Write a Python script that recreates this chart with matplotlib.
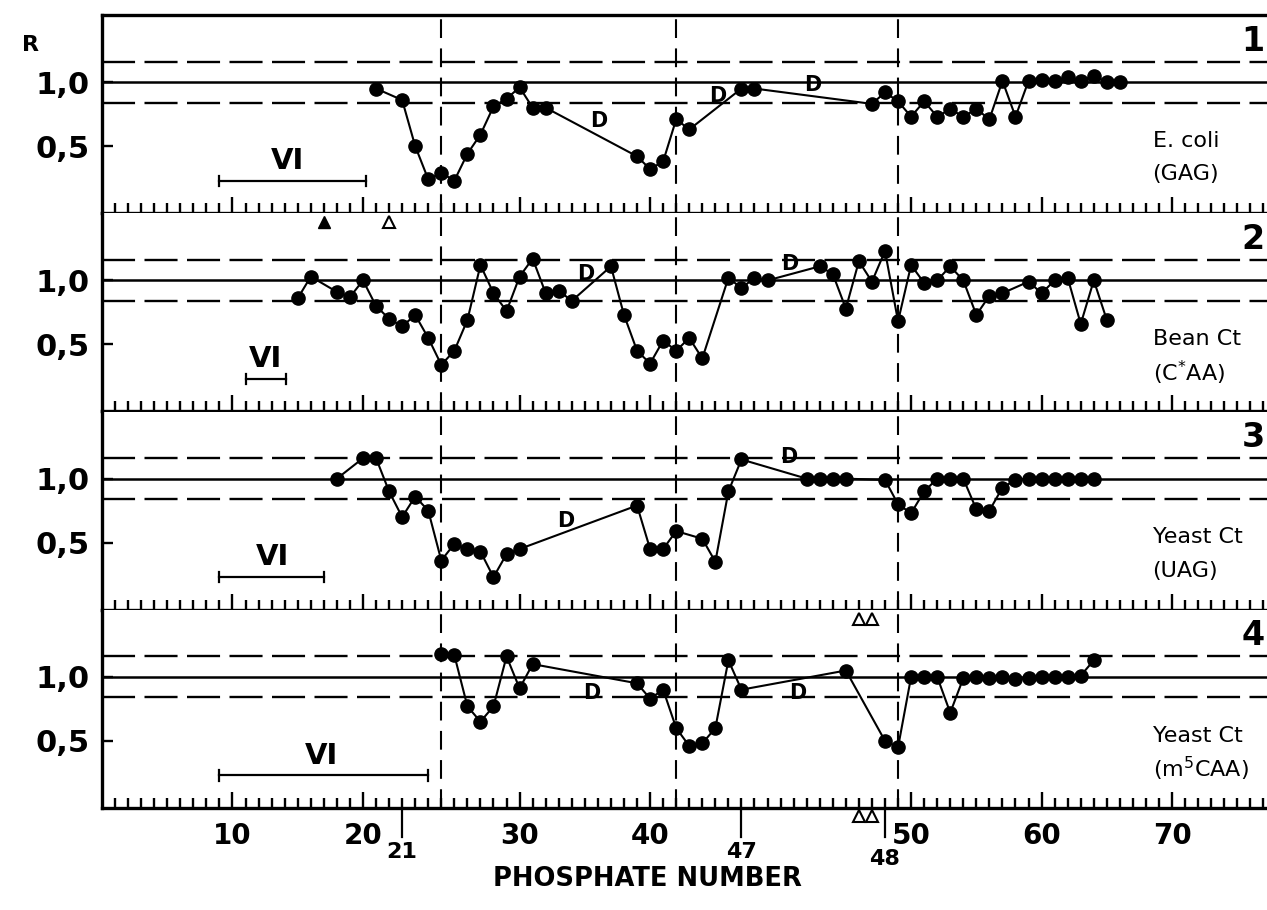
import matplotlib.pyplot as plt

plt.rcParams['font.family'] = 'DejaVu Sans'

# x = tick count from the left edge of the frame (one tick per phosphate)
# panel 1, E. coli (GAG)
x1 = [21, 23, 24, 25, 26, 27, 28, 29, 30, 31, 32, 33, 34,
      41, 42, 43, 44, 45, 49, 50,
      59, 60, 61, 62, 63, 64, 65, 66, 67, 68, 69, 70, 71, 72, 73, 74, 75, 76, 77, 78]
r1 = [0.95, 0.86, 0.50, 0.24, 0.29, 0.23, 0.44, 0.59, 0.81, 0.87, 0.96, 0.80, 0.80,
      0.42, 0.32, 0.38, 0.71, 0.63, 0.95, 0.95,
      0.83, 0.92, 0.85, 0.73, 0.85, 0.73, 0.79, 0.73, 0.79, 0.71, 1.01, 0.73, 1.01, 1.02,
      1.01, 1.04, 1.01, 1.05, 1.0, 1.0]

# panel 2, Bean Ct (C*AA)
x2 = [15, 16, 18, 19, 20, 21, 22, 23, 24, 25, 26, 27, 28, 29, 30, 31, 32, 33, 34, 35, 36,
      39, 40, 41, 42, 43, 44, 45, 46, 48, 49, 50, 51,
      55, 56, 57, 58, 59, 60, 61, 62, 63, 64, 65, 66, 67, 68, 69, 71, 72, 73, 74, 75, 76, 77]
r2 = [0.86, 1.03, 0.91, 0.87, 1.0, 0.80, 0.70, 0.64, 0.73, 0.55, 0.34, 0.45, 0.69, 1.12,
      0.90, 0.76, 1.03, 1.17, 0.90, 0.92, 0.84,
      1.11, 0.73, 0.45, 0.35, 0.53, 0.45, 0.55, 0.39, 1.02, 0.94, 1.02, 1.0,
      1.11, 1.05, 0.78, 1.15, 0.99, 1.23, 0.68, 1.12, 0.98, 1.0, 1.11, 1.0, 0.73, 0.88, 0.90,
      0.99, 0.90, 1.0, 1.02, 0.66, 1.0, 0.69]

# panel 3, Yeast Ct (UAG)
x3 = [18, 20, 21, 22, 23, 24, 25, 26, 27, 28, 29, 30, 31, 32,
      41, 42, 43, 44, 46, 47, 48, 49,
      54, 55, 56, 57, 60, 61, 62, 63, 64, 65, 66, 67, 68, 69, 70, 71, 72, 73, 74, 75, 76]
r3 = [1.0, 1.16, 1.16, 0.90, 0.70, 0.86, 0.75, 0.36, 0.49, 0.45, 0.43, 0.23, 0.41, 0.45,
      0.79, 0.45, 0.45, 0.59, 0.53, 0.35, 0.90, 1.15,
      1.0, 1.0, 1.0, 1.0, 0.99, 0.80, 0.73, 0.90, 1.0, 1.0, 1.0, 0.76, 0.75, 0.93, 0.99,
      1.0, 1.0, 1.0, 1.0, 1.0, 1.0]

# panel 4, Yeast Ct (m5CAA)
x4 = [26, 27, 28, 29, 30, 31, 32, 33,
      41, 42, 43, 44, 45, 46, 47, 48, 49,
      57, 60, 61, 62, 63, 64, 65, 66, 67, 68, 69, 70, 71, 72, 73, 74, 75, 76]
r4 = [1.18, 1.17, 0.77, 0.65, 0.77, 1.16, 0.91, 1.10,
      0.95, 0.83, 0.90, 0.60, 0.46, 0.48, 0.60, 1.13, 0.90,
      1.05, 0.50, 0.45, 1.0, 1.0, 1.0, 0.72, 0.99, 1.0, 0.99, 1.0, 0.98, 0.99, 1.0, 1.0,
      1.0, 1.01, 1.13]

xs = [x1, x2, x3, x4]
rs = [r1, r2, r3, r4]
names = [['E. coli', '(GAG)'], ['Bean Ct', r'(C$^{*}$AA)'],
         ['Yeast Ct', '(UAG)'], ['Yeast Ct', r'(m$^{5}$CAA)']]
panel_no = ['1', '2', '3', '4']

# "VI" bars (start, end, label x) and "D" labels per panel
vi_bars = [(9, 20.2, 14.2), (11, 14.1, 12.5), (9, 17, 13.1), (9, 25, 16.8)]
d_marks = [[(38.1, 0.70), (47.2, 0.89), (54.5, 0.98)],
           [(37.1, 1.05), (52.7, 1.13)],
           [(35.5, 0.67), (52.6, 1.17)],
           [(37.5, 0.875), (53.3, 0.875)]]

major_pos = [10, 20, 32, 42, 62, 72, 82]
major_lab = ['10', '20', '30', '40', '50', '60', '70']
marker_pos = [23, 49, 60]
marker_lab = ['21', '47', '48']
vlines = [26, 44, 61]

fig = plt.figure(figsize=(12.67, 9.1), dpi=100)
left = 102 / 1267.0
width = 90 * 13.05 / 1267.0
top_px = 15
panel_px = 198.25

axes = []
for i in range(4):
    bottom = 1 - (top_px + (i + 1) * panel_px) / 910.0
    ax = fig.add_axes([left, bottom, width, panel_px / 910.0])
    axes.append(ax)
    ax.set_xlim(0, 90)
    ax.set_ylim(-0.025, 1.525)
    ax.spines['right'].set_visible(False)
    if i > 0:
        ax.spines['top'].set_visible(False)
    for s in ['left', 'bottom', 'top']:
        ax.spines[s].set_linewidth(2.4)

    ax.axhline(1.0, color='black', lw=1.8, zorder=1)
    for yy in (1.16, 0.84):
        ax.axhline(yy, color='black', lw=1.7, dashes=(14, 4), zorder=1)
    for xv in vlines:
        ax.axvline(xv, color='black', lw=1.5, dashes=(9, 5), zorder=1)

    ax.plot(xs[i], rs[i], '-o', color='black', lw=1.5, ms=9.5, zorder=3)

    ax.set_xticks(major_pos)
    ax.set_xticks(range(1, 90), minor=True)
    ax.tick_params(axis='x', which='major', direction='in', length=11.5, width=1.7,
                   pad=10, labelsize=20, bottom=True, top=False)
    ax.tick_params(axis='x', which='minor', direction='in', length=7.5, width=1.7,
                   bottom=True, top=False)
    if i == 3:
        ax.set_xticklabels(major_lab, fontweight='bold')
    else:
        ax.set_xticklabels([])

    ax.set_yticks([0.5, 1.0])
    ax.set_yticklabels(['0,5', '1,0'], fontweight='bold')
    ax.tick_params(axis='y', direction='in', length=8, width=1.7, pad=9, labelsize=22)

    # species label
    ax.text(80.5, 0.54, names[i][0], fontsize=16, va='center', ha='left')
    ax.text(80.5, 0.28, names[i][1], fontsize=16, va='center', ha='left')
    ax.text(89.1, 1.32, panel_no[i], fontsize=24, fontweight='bold', va='center',
            ha='right', clip_on=False)

    # VI bar
    a, b, c = vi_bars[i]
    ax.plot([a, b], [0.23, 0.23], color='black', lw=1.6)
    ax.plot([a, a], [0.19, 0.27], color='black', lw=1.6)
    ax.plot([b, b], [0.19, 0.27], color='black', lw=1.6)
    ax.text(c, 0.385, 'VI', fontsize=21, fontweight='bold', ha='center', va='center')

    for dx, dy in d_marks[i]:
        ax.text(dx, dy, 'D', fontsize=15, fontweight='bold', ha='center', va='center',
                zorder=4)

# triangles
axes[1].plot([17], [1.46], marker='^', color='black', ms=9, ls='none')
axes[1].plot([22], [1.46], marker='^', mfc='white', mec='black', mew=1.5, ms=9, ls='none')
axes[3].plot([58, 59], [1.45, 1.45], marker='^', mfc='white', mec='black', mew=1.5,
             ms=9, ls='none')
axes[3].plot([58, 59], [-0.09, -0.09], marker='^', mfc='white', mec='black', mew=1.5,
             ms=9, ls='none', clip_on=False)

# tRNA position markers under the axis
axb = axes[3]
for p, lab in zip(marker_pos, marker_lab):
    axb.plot([p, p], [-0.025, -0.25], color='black', lw=1.6, clip_on=False)
    yl = -0.42 if lab == '48' else -0.37
    axb.text(p, yl, lab, fontsize=16, fontweight='bold', ha='center', va='center')

fig.text(30 / 1267.0, 1 - 45 / 910.0, 'R', fontsize=16, fontweight='bold',
         ha='center', va='center')
fig.text(647 / 1267.0, 1 - 879 / 910.0, 'PHOSPHATE NUMBER', fontsize=18.5,
         fontweight='bold', ha='center', va='center')

fig.savefig('out.png', dpi=100)
